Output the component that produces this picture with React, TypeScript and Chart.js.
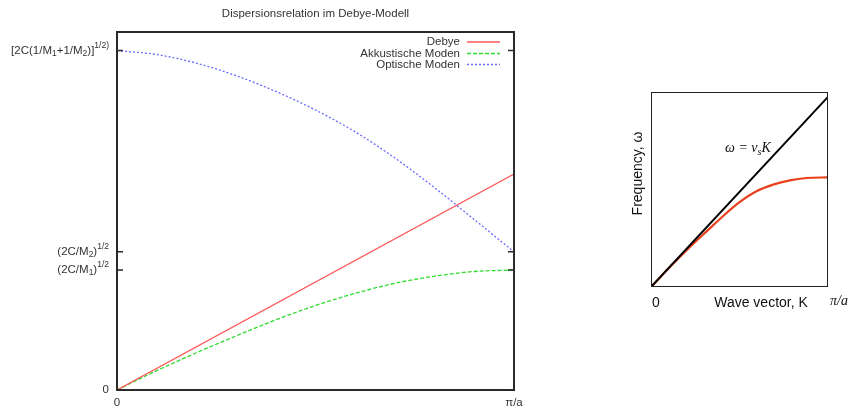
import React, { useEffect, useRef } from "react";
import { Chart, registerables } from "chart.js";

Chart.register(...registerables);

// ---------- Left chart data (Dispersionsrelation im Debye-Modell) ----------
const chartTitle = "Dispersionsrelation im Debye-Modell";
const kValues = [0, 0.1, 0.2, 0.3, 0.4, 0.5, 0.6, 0.7, 0.8, 0.9, 1.0];
const debyeK = [0, 1];
const debyeValues = [0, 0.603];
const acousticValues = [0, 0.054, 0.104, 0.151, 0.196, 0.236, 0.27, 0.298, 0.318, 0.331, 0.335];
const opticalValues = [0.948, 0.937, 0.913, 0.878, 0.834, 0.782, 0.721, 0.648, 0.565, 0.476, 0.386];
const seriesLabels = ["Debye", "Akkustische Moden", "Optische Moden"];
const seriesColors = ["#ff5a5a", "#2fdc2f", "#6a6aff"];
const seriesDash = [[], [4, 2], [2, 2]];
const yTickValues = [0, 0.335, 0.386, 0.948];
type Part = { t: string; sub?: boolean; sup?: boolean };
const yTickLabels: Part[][] = [
  [{ t: "0" }],
  [{ t: "(2C/M" }, { t: "1", sub: true }, { t: ")" }, { t: "1/2", sup: true }],
  [{ t: "(2C/M" }, { t: "2", sub: true }, { t: ")" }, { t: "1/2", sup: true }],
  [
    { t: "[2C(1/M" },
    { t: "1", sub: true },
    { t: "+1/M" },
    { t: "2", sub: true },
    { t: ")]" },
    { t: "1/2)", sup: true },
  ],
];
const xTickValues = [0, 1];
const xTickLabels = ["0", "π/a"];

// ---------- Right chart data ----------
const linearK = [0, 1];
const linearValues = [0, 0.975];
const realK = [0, 0.126, 0.22, 0.314, 0.408, 0.502, 0.596, 0.69, 0.784, 0.878, 1.0];
const realValues = [0, 0.12, 0.205, 0.285, 0.364, 0.436, 0.491, 0.525, 0.547, 0.559, 0.562];
const rightYLabel = "Frequency, ω";
const rightXLabel = "Wave vector, K";
const rightXTicks = ["0", "π/a"];

const SANS = "'Liberation Sans', Arial, sans-serif";
const SERIF = "'Liberation Serif', 'Times New Roman', serif";
const BASE = `11.5px ${SANS}`;

function drawRich(ctx: CanvasRenderingContext2D, parts: Part[], xRight: number, y: number) {
  const small = `8.5px ${SANS}`;
  let total = 0;
  for (const p of parts) {
    ctx.font = p.sub || p.sup ? small : BASE;
    total += ctx.measureText(p.t).width;
  }
  let x = xRight - total;
  ctx.textAlign = "left";
  ctx.textBaseline = "middle";
  for (const p of parts) {
    ctx.font = p.sub || p.sup ? small : BASE;
    const dy = p.sub ? 3 : p.sup ? -5 : 0;
    ctx.fillText(p.t, x, y + dy);
    x += ctx.measureText(p.t).width;
  }
}

const leftPlugin = {
  id: "leftDecor",
  afterDraw(chart: any) {
    const ctx: CanvasRenderingContext2D = chart.ctx;
    const { left, right, top, bottom } = chart.chartArea;
    const xs = chart.scales.x;
    const ys = chart.scales.y;
    ctx.save();
    // frame
    ctx.strokeStyle = "#2a2a2a";
    ctx.lineWidth = 2;
    ctx.strokeRect(left, top, right - left, bottom - top);
    // ticks
    ctx.lineWidth = 1.5;
    for (const v of yTickValues) {
      const py = ys.getPixelForValue(v);
      ctx.beginPath();
      ctx.moveTo(left, py);
      ctx.lineTo(left + 6, py);
      ctx.moveTo(right, py);
      ctx.lineTo(right - 6, py);
      ctx.stroke();
    }
    // tick labels
    ctx.fillStyle = "#333";
    yTickValues.forEach((v, i) => {
      drawRich(ctx, yTickLabels[i], left - 8, ys.getPixelForValue(v));
    });
    ctx.font = BASE;
    ctx.textAlign = "center";
    ctx.textBaseline = "middle";
    xTickValues.forEach((v, i) => {
      ctx.fillText(xTickLabels[i], xs.getPixelForValue(v), bottom + 13);
    });
    // title
    ctx.fillText(chartTitle, (left + right) / 2, 14);
    // legend
    const rows = [42, 53.5, 64.5];
    seriesLabels.forEach((label, i) => {
      const y = rows[i];
      ctx.fillStyle = "#333";
      ctx.textAlign = "right";
      ctx.font = BASE;
      ctx.fillText(label, 460, y);
      ctx.strokeStyle = seriesColors[i];
      ctx.lineWidth = 1.6;
      ctx.setLineDash(seriesDash[i]);
      ctx.beginPath();
      ctx.moveTo(467, y);
      ctx.lineTo(500, y);
      ctx.stroke();
      ctx.setLineDash([]);
    });
    ctx.restore();
  },
};

const rightPlugin = {
  id: "rightDecor",
  afterDraw(chart: any) {
    const ctx: CanvasRenderingContext2D = chart.ctx;
    const { left, right, top, bottom } = chart.chartArea;
    const xs = chart.scales.x;
    ctx.save();
    ctx.strokeStyle = "#222";
    ctx.lineWidth = 1;
    ctx.strokeRect(left + 0.5, top + 0.5, right - left - 1, bottom - top - 1);
    ctx.fillStyle = "#111";
    ctx.font = `14px ${SANS}`;
    ctx.textBaseline = "middle";
    ctx.textAlign = "center";
    ctx.fillText(rightXTicks[0], xs.getPixelForValue(0) + 5, bottom + 16);
    ctx.fillText(rightXLabel, 201, bottom + 16);
    ctx.font = `italic 14px ${SERIF}`;
    ctx.textAlign = "left";
    ctx.fillText(rightXTicks[1], right + 2, bottom + 14);
    // y label
    ctx.save();
    ctx.translate(78, (top + bottom) / 2 - 16);
    ctx.rotate(-Math.PI / 2);
    ctx.font = `14px ${SANS}`;
    ctx.textAlign = "center";
    ctx.fillText(rightYLabel, 0, 0);
    ctx.restore();
    // annotation ω = v_s K
    ctx.font = `italic 14px ${SERIF}`;
    ctx.textAlign = "left";
    let x = 165;
    const y = 148;
    const p1 = "ω = v";
    ctx.fillText(p1, x, y);
    x += ctx.measureText(p1).width;
    ctx.font = `italic 10px ${SERIF}`;
    ctx.fillText("s", x, y + 4);
    x += ctx.measureText("s").width;
    ctx.font = `italic 14px ${SERIF}`;
    ctx.fillText("K", x, y);
    ctx.restore();
  },
};

export default function App() {
  const leftRef = useRef<HTMLCanvasElement>(null);
  const rightRef = useRef<HTMLCanvasElement>(null);

  useEffect(() => {
    const toXY = (xs: number[], ys: number[]) => xs.map((x, i) => ({ x, y: ys[i] }));
    const left = new Chart(leftRef.current!, {
      type: "line",
      data: {
        datasets: [
          {
            label: seriesLabels[0],
            data: toXY(debyeK, debyeValues),
            borderColor: seriesColors[0],
            borderWidth: 1.3,
            pointRadius: 0,
          },
          {
            label: seriesLabels[1],
            data: toXY(kValues, acousticValues),
            borderColor: seriesColors[1],
            borderWidth: 1.3,
            borderDash: seriesDash[1],
            pointRadius: 0,
            cubicInterpolationMode: "monotone",
          },
          {
            label: seriesLabels[2],
            data: toXY(kValues, opticalValues),
            borderColor: seriesColors[2],
            borderWidth: 1.3,
            borderDash: seriesDash[2],
            pointRadius: 0,
            cubicInterpolationMode: "monotone",
          },
        ],
      } as any,
      options: {
        animation: false,
        responsive: false,
        layout: { padding: { left: 117, top: 32, right: 46, bottom: 17 } },
        plugins: { legend: { display: false }, tooltip: { enabled: false } },
        scales: {
          x: { type: "linear", min: 0, max: 1, display: false },
          y: { type: "linear", min: 0, max: 1, display: false },
        },
      },
      plugins: [leftPlugin],
    });

    const right = new Chart(rightRef.current!, {
      type: "line",
      data: {
        datasets: [
          {
            label: "linear",
            data: toXY(linearK, linearValues),
            borderColor: "#000",
            borderWidth: 2,
            pointRadius: 0,
          },
          {
            label: "real",
            data: toXY(realK, realValues),
            borderColor: "#e8401c",
            borderWidth: 2.2,
            pointRadius: 0,
            cubicInterpolationMode: "monotone",
          },
        ],
      } as any,
      options: {
        animation: false,
        responsive: false,
        layout: { padding: { left: 91, top: 92, right: 20, bottom: 120 } },
        plugins: { legend: { display: false }, tooltip: { enabled: false } },
        scales: {
          x: { type: "linear", min: 0, max: 1, display: false },
          y: { type: "linear", min: 0, max: 1, display: false },
        },
      },
      plugins: [rightPlugin],
    });

    return () => {
      left.destroy();
      right.destroy();
    };
  }, []);

  return (
    <div style={{ position: "absolute", left: 0, top: 0, width: 848, height: 407, background: "#fff" }}>
      <canvas ref={leftRef} width={560} height={407} style={{ position: "absolute", left: 0, top: 0 }} />
      <canvas ref={rightRef} width={288} height={407} style={{ position: "absolute", left: 560, top: 0 }} />
    </div>
  );
}
